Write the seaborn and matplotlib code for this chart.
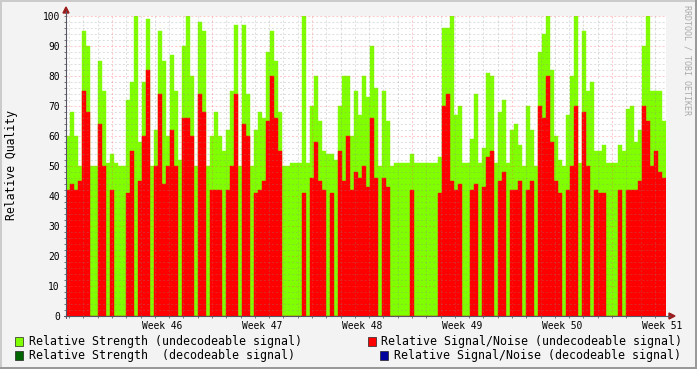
import numpy as np
import pandas as pd
import matplotlib
matplotlib.use("Agg")
import matplotlib.pyplot as plt
import seaborn as sns
from matplotlib.patches import Rectangle, Polygon
from matplotlib.lines import Line2D

# ---------------- data (one value per time slot, ~6.7 h each) ----------------
strength_undecodeable = [
    60, 68, 60, 50, 95, 90, 50, 50, 85, 75,
    51, 54, 51, 50, 50, 72, 78, 100,
    58, 78, 99, 50, 62, 95, 85, 60, 87, 75,
    52, 90, 100, 80, 50, 98, 95, 50, 60,
    68, 60, 55, 62, 75, 97, 50, 97, 74,
    50, 62, 68, 66, 88, 95, 85, 68, 50, 50,
    51, 51, 51, 100, 51, 70, 80, 65, 55, 54,
    54, 52, 70, 80, 80, 60, 75, 67, 80,
    73, 90, 76, 50, 75, 65, 50, 51, 51, 51, 51, 54, 51, 51, 51, 51, 51, 51, 53,
    96, 96, 100, 67, 70, 51, 51, 59, 74, 51, 56, 81, 80, 51, 68, 72, 51, 62,
    64, 57, 50, 70, 62, 50, 88, 94, 100, 82, 60, 52, 50, 67, 80, 100, 51, 95, 75,
    78, 55, 55, 57, 51, 51, 51, 57, 55, 69, 70, 58, 62, 90, 100, 75, 75, 75, 65,
]
snr_undecodeable = [
    42, 44, 42, 45, 75, 68, 0, 0, 64, 50,
    0, 42, 0, 0, 0, 41, 55, 0,
    45, 60, 82, 0, 50, 74, 44, 50, 62, 50,
    0, 66, 66, 60, 0, 74, 68, 0, 42,
    42, 42, 0, 42, 50, 74, 0, 64, 60,
    0, 41, 42, 45, 65, 80, 66, 55, 0, 0,
    0, 0, 0, 41, 0, 46, 58, 45, 42, 0,
    41, 0, 55, 45, 60, 42, 48, 46, 50,
    43, 66, 46, 0, 46, 43, 0, 0, 0, 0, 0, 42, 0, 0, 0, 0, 0, 0, 41,
    70, 74, 45, 42, 44, 0, 0, 42, 44, 0, 43, 53, 55, 0, 45, 48, 0, 42,
    42, 45, 0, 42, 45, 0, 70, 66, 80, 58, 45, 41, 0, 42, 50, 70, 0, 68, 50,
    0, 42, 41, 41, 0, 0, 0, 42, 0, 42, 42, 42, 45, 70, 65, 50, 55, 48, 46,
]
week_labels = ["Week 46", "Week 47", "Week 48", "Week 49", "Week 50", "Week 51"]
y_ticks = list(range(0, 101, 10))
legend_labels = [
    "Relative Strength (undecodeable signal)",
    "Relative Signal/Noise (undecodeable signal)",
    "Relative Strength  (decodeable signal)",
    "Relative Signal/Noise (decodeable signal)",
]

GREEN = "#80FF00"
RED = "#FF0000"
DGREEN = "#006400"
BLUE = "#00009C"

slots_per_week = 25
first_week_start = 11          # slot position of first Monday grid line
slots_per_day = slots_per_week / 7

# ---------------- figure ----------------
sns.set_theme(style="white")
plt.rcParams["font.family"] = ["DejaVu Sans Mono", "DejaVu Sans"]
plt.rcParams["lines.scale_dashes"] = False

W, H = 697, 369
fig = plt.figure(figsize=(W / 100, H / 100), dpi=100, facecolor="#F3F3F3")

X0, X1, Y0, Y1 = 66, 666, 16, 316
ax = fig.add_axes([X0 / W, (H - Y1) / H, (X1 - X0) / W, (Y1 - Y0) / H])
ax.set_facecolor("white")

n = len(strength_undecodeable)
df = pd.DataFrame({
    "slot": np.arange(n),
    "strength": strength_undecodeable,
    "snr": snr_undecodeable,
})
sns.barplot(data=df, x="slot", y="strength", color=GREEN, saturation=1,
            width=1.0, linewidth=0.3, edgecolor=GREEN, errorbar=None,
            ax=ax, zorder=1)
sns.barplot(data=df, x="slot", y="snr", color=RED, saturation=1,
            width=1.0, linewidth=0.3, edgecolor=RED, errorbar=None,
            ax=ax, zorder=2)

ax.set_xlim(-0.5, n - 0.5)
ax.set_ylim(0, 100)
ax.set_xlabel("")
ax.set_ylabel("")
for s in ax.spines.values():
    s.set_visible(False)

# grid (drawn on top of the data like rrdtool)
minor_c = (0.55, 0.55, 0.55, 0.28)
major_c = (1.0, 0.3, 0.3, 0.3)
dash = (0, (1.45, 1.45))
for v in range(2, 101, 2):
    ax.axhline(v, color=major_c if v % 10 == 0 else minor_c, lw=0.75,
               ls=dash, zorder=3)
k0 = -int(first_week_start // slots_per_day)
day_pos = []
k = k0
while True:
    p = first_week_start + k * slots_per_day
    if p > n - 0.5:
        break
    if p > -0.5:
        day_pos.append((p, k % 7 == 0))
    k += 1
for p, is_major in day_pos:
    ax.axvline(p, color=major_c if is_major else minor_c, lw=0.75,
               ls=dash, zorder=3)

# ticks
ax.set_yticks(y_ticks)
ax.set_yticklabels([str(t) for t in y_ticks])
ax.set_yticks(list(range(0, 101, 2)), minor=True)
label_pos = [first_week_start + slots_per_week / 2 + i * slots_per_week
             for i in range(len(week_labels))]
ax.set_xticks(label_pos)
ax.set_xticklabels(week_labels)
ax.set_xticks([p for p, _ in day_pos], minor=True)
ax.tick_params(axis="y", which="both", left=True, length=1.5, width=0.7,
               color="#777777", pad=3, labelsize=6.9, labelcolor="black")
ax.tick_params(axis="x", which="major", bottom=True, length=0, pad=3.5,
               labelsize=6.9, labelcolor="black")
ax.tick_params(axis="x", which="minor", bottom=True, length=1.5, width=0.7,
               color="#777777")

# axis lines and arrows (figure pixel coords)
def fx(px):
    return px / W

def fy(py):
    return 1 - py / H

axis_c = "#555566"
fig.add_artist(Line2D([fx(X0), fx(X0)], [fy(Y1 + 2), fy(11)], color=axis_c,
                      lw=0.8, transform=fig.transFigure))
fig.add_artist(Line2D([fx(X0 - 2), fx(670)], [fy(Y1), fy(Y1)], color=axis_c,
                      lw=0.8, transform=fig.transFigure))
arrow_c = "#9B1C1C"
fig.add_artist(Polygon([[fx(X0 - 3), fy(13)], [fx(X0 + 3), fy(13)],
                        [fx(X0), fy(7)]], closed=True, color=arrow_c,
                       transform=fig.transFigure))
fig.add_artist(Polygon([[fx(669), fy(Y1 - 3)], [fx(669), fy(Y1 + 3)],
                        [fx(675), fy(Y1)]], closed=True, color=arrow_c,
                       transform=fig.transFigure))

# y label
fig.text(fx(12), fy(165), "Relative Quality", rotation=90, ha="center",
         va="center", fontsize=8.3, color="black")

# watermark
fig.text(fx(687), fy(60), "RRDTOOL / TOBI OETIKER", rotation=270,
         ha="center", va="center", fontsize=6.0, color="#AAAAAA")

# legend
leg = [
    (15, 341, 29, GREEN, legend_labels[0]),
    (368, 341, 381, RED, legend_labels[1]),
    (15, 355, 29, DGREEN, legend_labels[2]),
    (380, 355, 394, BLUE, legend_labels[3]),
]
for sx, cy, tx, col, lab in leg:
    fig.add_artist(Rectangle((fx(sx), fy(cy + 4.5)), 8 / W, 9 / H,
                             facecolor=col, edgecolor="#222222", lw=0.5,
                             transform=fig.transFigure))
    fig.text(fx(tx), fy(cy), lab, ha="left", va="center", fontsize=8.4,
             color="black")

# canvas border shading
fig.add_artist(Rectangle((0, 1 - 2 / H), 1, 2 / H, facecolor="#CBCBCB",
                         edgecolor="none", transform=fig.transFigure))
fig.add_artist(Rectangle((0, 0), 2 / W, 1, facecolor="#CBCBCB",
                         edgecolor="none", transform=fig.transFigure))
fig.add_artist(Rectangle((1 - 2 / W, 0), 2 / W, 1, facecolor="#999999",
                         edgecolor="none", transform=fig.transFigure))
fig.add_artist(Rectangle((0, 0), 1, 2 / H, facecolor="#999999",
                         edgecolor="none", transform=fig.transFigure))

fig.savefig("out.png", dpi=100, facecolor=fig.get_facecolor())
